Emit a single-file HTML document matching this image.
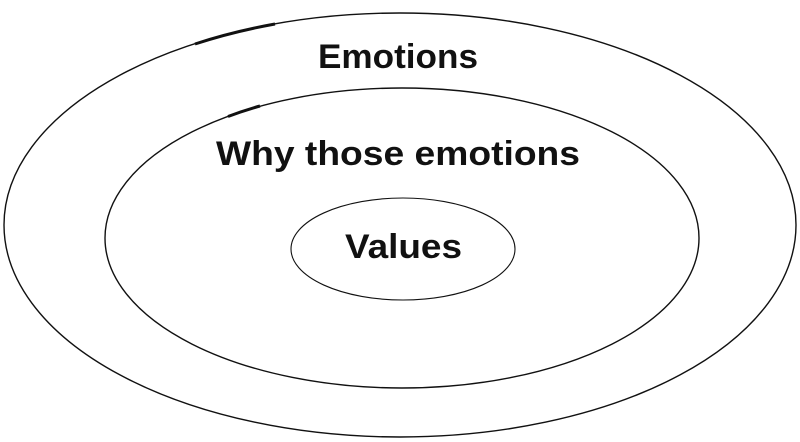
<!DOCTYPE html>
<html>
<head>
<meta charset="utf-8">
<style>
html,body{margin:0;padding:0;background:#fff;}
svg{display:block;}
text{font-family:"Liberation Sans",sans-serif;fill:#111;font-weight:bold;}
</style>
</head>
<body>
<svg width="800" height="442" viewBox="0 0 800 442" xmlns="http://www.w3.org/2000/svg">
  <ellipse cx="400" cy="225" rx="396" ry="212" fill="none" stroke="#111" stroke-width="1.4"/>
  <path d="M195 44 A396 212 0 0 1 275 24" fill="none" stroke="#111" stroke-width="3"/>
  <ellipse cx="402" cy="238" rx="297" ry="150" fill="none" stroke="#111" stroke-width="1.4"/>
  <path d="M228 116.5 A297 150 0 0 1 260 106" fill="none" stroke="#111" stroke-width="3"/>
  <ellipse cx="403" cy="249" rx="112" ry="51" fill="none" stroke="#111" stroke-width="1.1"/>
  <text x="318" y="68" font-size="34" textLength="160" lengthAdjust="spacingAndGlyphs">Emotions</text>
  <text x="216" y="165" font-size="34" textLength="364" lengthAdjust="spacingAndGlyphs">Why those emotions</text>
  <text x="345" y="258" font-size="34" textLength="117" lengthAdjust="spacingAndGlyphs">Values</text>
</svg>
</body>
</html>
